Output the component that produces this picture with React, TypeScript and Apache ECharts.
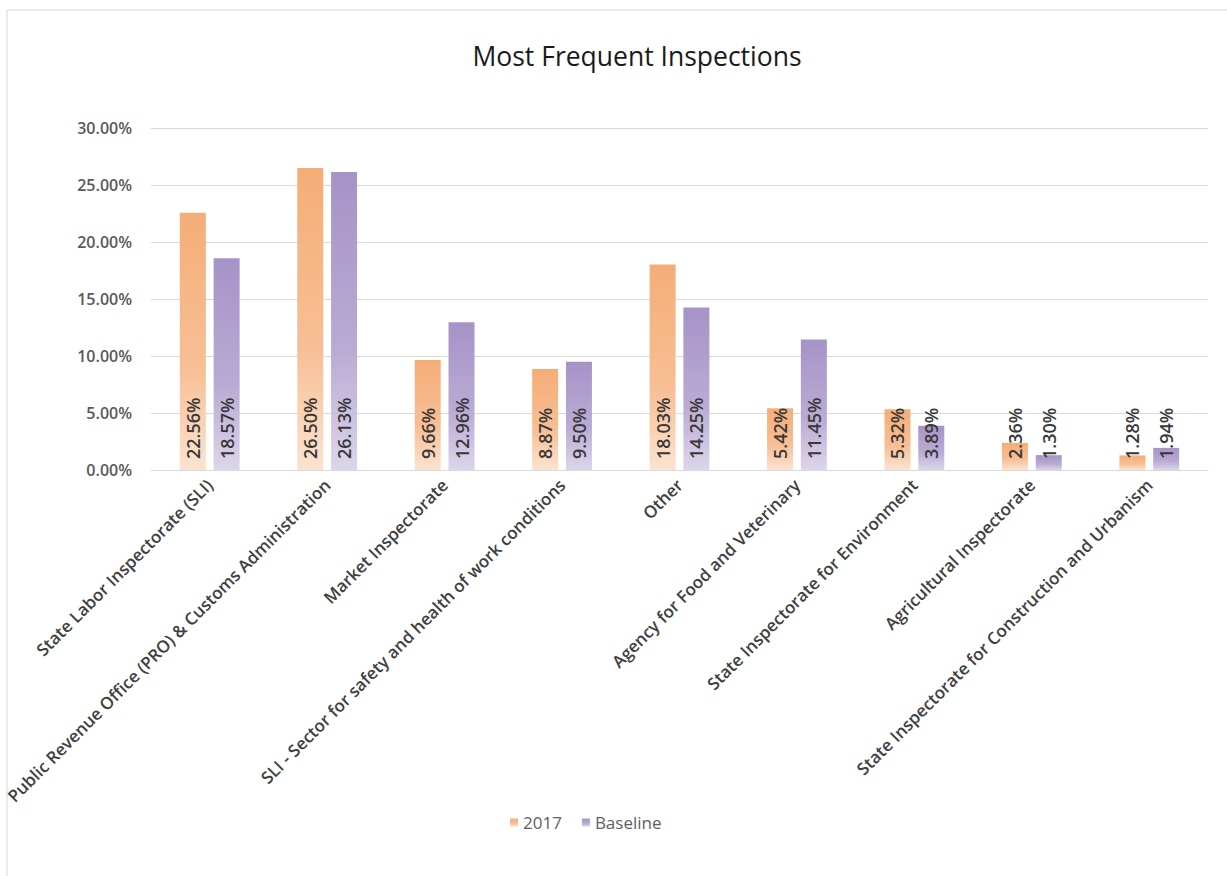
import React, { useEffect, useRef } from "react";
import * as echarts from "echarts";

const categories = [
  "State Labor Inspectorate (SLI)",
  "Public Revenue Office (PRO) & Customs Administration",
  "Market Inspectorate",
  "SLI - Sector for safety and health of work conditions",
  "Other",
  "Agency for Food and Veterinary",
  "State Inspectorate for Environment",
  "Agricultural Inspectorate",
  "State Inspectorate for Construction and Urbanism",
];

const values2017 = [22.56, 26.5, 9.66, 8.87, 18.03, 5.42, 5.32, 2.36, 1.28];
const valuesBaseline = [18.57, 26.13, 12.96, 9.5, 14.25, 11.45, 3.89, 1.3, 1.94];

const seriesNames = ["2017", "Baseline"];
const yTicks = { min: 0, max: 30, interval: 5 };

const FONT = "'Open Sans', 'Noto Sans', sans-serif";

const gradient = (top: string, mid: string, bottom: string) =>
  new echarts.graphic.LinearGradient(0, 0, 0, 1, [
    { offset: 0, color: top },
    { offset: 0.6, color: mid },
    { offset: 1, color: bottom },
  ]);

export default function App() {
  const ref = useRef<HTMLDivElement>(null);

  useEffect(() => {
    if (!ref.current) return;
    const chart = echarts.init(ref.current, undefined, { renderer: "svg" });

    const barLabel = {
      show: true,
      position: "insideBottom" as const,
      rotate: 90,
      align: "left" as const,
      verticalAlign: "middle" as const,
      distance: 11,
      color: "#383838",
      fontFamily: FONT,
      fontSize: 18,
      fontWeight: 600,
      formatter: (p: any) => `${Number(p.value).toFixed(2)}%`,
    };

    chart.setOption({
      animation: false,
      backgroundColor: "#ffffff",
      title: {
        text: "Most Frequent Inspections",
        left: 632,
        top: 37,
        textAlign: "center",
        textStyle: {
          fontFamily: FONT,
          fontSize: 26.5,
          fontWeight: "normal",
          color: "#1a1a1a",
        },
      },
      graphic: [
        {
          type: "rect",
          shape: { x: 7, y: 10, width: 1300, height: 950 },
          style: { fill: "none", stroke: "#d6d6d6", lineWidth: 1 },
          silent: true,
        },
      ],
      legend: {
        data: seriesNames,
        left: 505,
        top: 809,
        itemWidth: 8,
        itemHeight: 8,
        itemGap: 20,
        icon: "rect",
        textStyle: { fontFamily: FONT, fontSize: 17, color: "#606060" },
      },
      grid: { left: 151, right: 19, top: 128, bottom: 406 },
      xAxis: {
        type: "category",
        data: categories,
        axisLine: { lineStyle: { color: "#d9d9d9", width: 1 } },
        axisTick: { show: false },
        axisLabel: {
          interval: 0,
          rotate: 45,
          margin: 12,
          fontFamily: FONT,
          fontSize: 17,
          fontWeight: 600,
          color: "#404040",
        },
      },
      yAxis: {
        type: "value",
        min: yTicks.min,
        max: yTicks.max,
        interval: yTicks.interval,
        axisLine: { show: false },
        axisTick: { show: false },
        splitLine: { lineStyle: { color: "#d9d9d9", width: 1 } },
        axisLabel: {
          margin: 19,
          fontFamily: FONT,
          fontSize: 16,
          fontWeight: 600,
          color: "#595959",
          formatter: (v: number) => `${v.toFixed(2)}%`,
        },
      },
      series: [
        {
          name: seriesNames[0],
          type: "bar",
          data: values2017,
          barWidth: 26,
          barGap: "30%",
          itemStyle: { color: gradient("#f5ad77", "#f7bf95", "#fce3cf") },
          label: barLabel,
        },
        {
          name: seriesNames[1],
          type: "bar",
          data: valuesBaseline,
          barWidth: 26,
          barGap: "30%",
          itemStyle: { color: gradient("#a693c7", "#b9abd4", "#ddd5eb") },
          label: barLabel,
        },
      ],
    });

    return () => chart.dispose();
  }, []);

  return (
    <div
      ref={ref}
      style={{ position: "fixed", left: 0, top: 0, width: 1227, height: 876 }}
    />
  );
}
